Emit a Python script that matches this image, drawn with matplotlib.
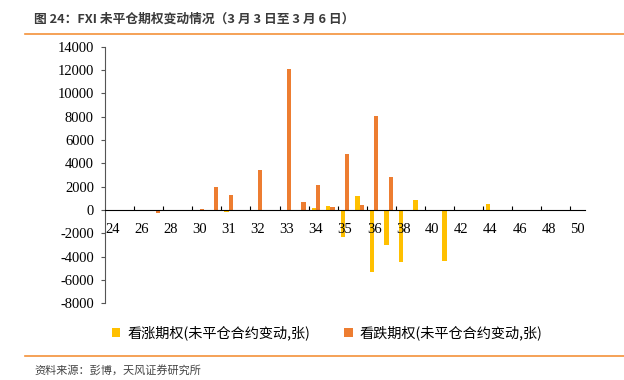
import numpy as np
import matplotlib
matplotlib.use("Agg")
from matplotlib import pyplot as plt
from matplotlib.patches import Patch
from matplotlib.lines import Line2D

# 行权价
strikes = ['24', '25', '26', '27', '28', '29', '30', '30.5', '31', '31.5', '32', '32.5',
           '33', '33.5', '34', '34.5', '35', '35.5', '36', '37', '38', '39', '40', '41',
           '42', '43', '44', '45', '46', '47', '48', '49', '50']
# 看涨期权未平仓合约变动
calls = [0, 20, -20, 0, 0, 0, 20, 0, -200, 0, 20, 0,
         20, 20, 200, 370, -2340, 1230, -5290, -3000, -4460, 830, -50, -4400,
         20, 0, 510, 0, 0, 20, 0, 0, 0]
# 看跌期权未平仓合约变动
puts = [0, 0, 0, -290, 20, 20, 50, 2000, 1260, 20, 3460, 20,
        12100, 660, 2110, 260, 4780, 400, 8030, 2830, 30, 0, 0, 0,
        0, 0, 0, 0, 0, 0, 0, 0, 0]
yticks = [-8000, -6000, -4000, -2000, 0, 2000, 4000, 6000, 8000, 10000, 12000, 14000]

title = '图 24：FXI 未平仓期权变动情况（3 月 3 日至 3 月 6 日）'
source = '资料来源：彭博，天风证券研究所'
legend_labels = ['看涨期权(未平仓合约变动,张)', '看跌期权(未平仓合约变动,张)']

yellow = '#FFC000'
orange = '#ED7D31'
cjk = ['Noto Sans CJK SC', 'DejaVu Sans']
serif = 'Liberation Serif'

W, H = 624, 380
fig = plt.figure(figsize=(W / 100, H / 100), dpi=100)
ax = fig.add_axes([105 / W, 1 - 303.3 / H, 480 / W, (303.3 - 46.7) / H])

x = np.arange(len(strikes))
bw = 0.3
ax.bar(x - bw / 2, calls, bw, color=yellow, linewidth=0)
ax.bar(x + bw / 2, puts, bw, color=orange, linewidth=0)

ax.set_xlim(-0.5, len(strikes) - 0.5)
ax.set_ylim(-8000, 14000)

for s in ['top', 'right']:
    ax.spines[s].set_visible(False)
ax.spines['bottom'].set_position(('data', 0))
ax.spines['bottom'].set_color('black')
ax.spines['left'].set_color('#555555')

# y 轴
ax.set_yticks(yticks)
ax.set_yticklabels([str(v) for v in yticks], fontfamily=serif, fontsize=10.5)
ax.tick_params(axis='y', direction='out', length=3, pad=5, color='#555555')

# x 轴: 刻度线在类别之间, 标签每隔一个类别
ax.set_xticks(np.arange(1.5, len(strikes) - 1, 2))
ax.set_xticklabels([])
ax.tick_params(axis='x', which='major', direction='in', length=3, color='black')
ax.set_xticks(x[::2], minor=True)
ax.set_xticklabels(strikes[::2], minor=True, fontfamily=serif, fontsize=10.5)
ax.tick_params(axis='x', which='minor', length=0, pad=9.5)

# 图例
handles = [Patch(facecolor=yellow), Patch(facecolor=orange)]
fig.legend(handles, legend_labels, loc='center', bbox_to_anchor=(327 / W, 1 - 333 / H),
           ncol=2, frameon=False, prop={'family': cjk, 'size': 10.2},
           handlelength=0.6, handleheight=0.6, handletextpad=0.5, columnspacing=2.4)

# 标题和来源
fig.text(34 / W, 1 - 19 / H, title, fontfamily=cjk, fontsize=9.2, fontweight='bold',
         color='#3a3a3a', va='center', ha='left')
fig.add_artist(Line2D([25 / W, 1], [1 - 34 / H, 1 - 34 / H], color='#F4913A', linewidth=1.2))
fig.add_artist(Line2D([25 / W, 1], [1 - 355.7 / H, 1 - 355.7 / H], color='#F4913A', linewidth=1.2))
fig.text(34 / W, 1 - 371.5 / H, source, fontfamily=cjk, fontsize=8, color='#444444',
         va='center', ha='left')

fig.savefig('out.png', dpi=100)
